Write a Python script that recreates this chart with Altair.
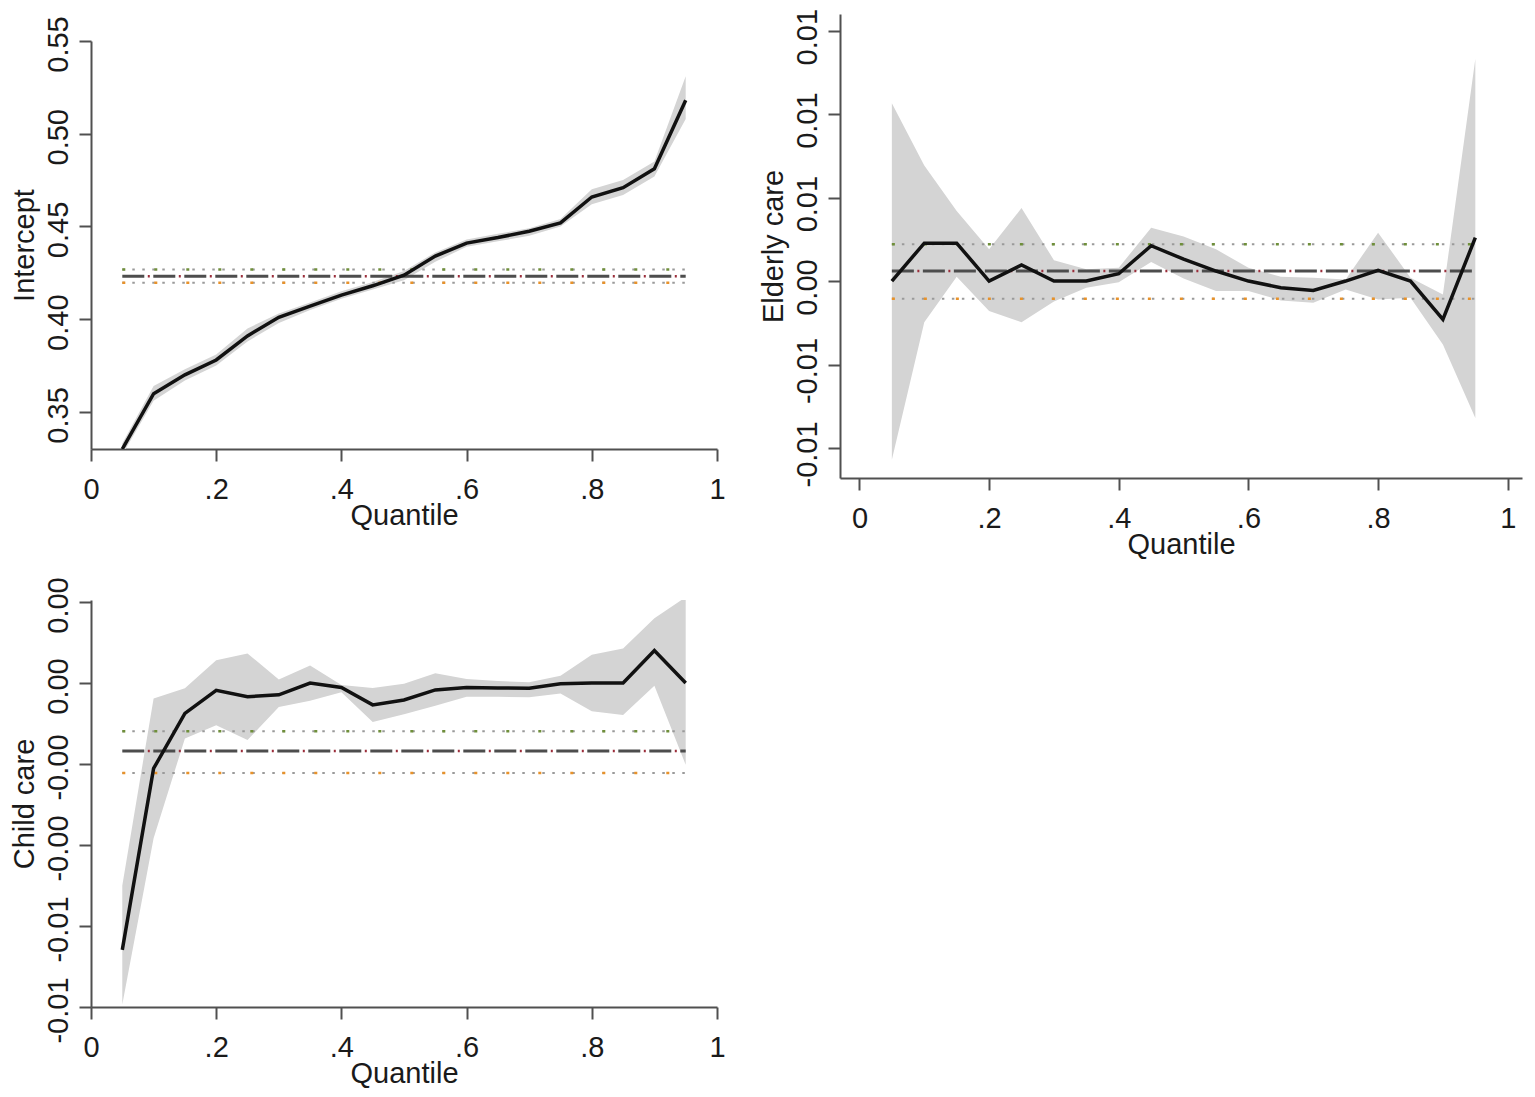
import altair as alt
import pandas as pd

# ---------------- data ----------------
quantiles = [0.05, 0.10, 0.15, 0.20, 0.25, 0.30, 0.35, 0.40, 0.45, 0.50,
             0.55, 0.60, 0.65, 0.70, 0.75, 0.80, 0.85, 0.90, 0.95]

intercept_coef = [0.330, 0.3598, 0.370, 0.378, 0.391, 0.401, 0.407, 0.413, 0.418, 0.4237,
                  0.434, 0.441, 0.444, 0.4474, 0.4519, 0.4659, 0.4709, 0.4811, 0.518]
intercept_lo = [0.327, 0.356, 0.367, 0.375, 0.388, 0.398, 0.405, 0.411, 0.416, 0.421,
                0.431, 0.439, 0.442, 0.445, 0.450, 0.462, 0.467, 0.477, 0.508]
intercept_hi = [0.333, 0.364, 0.373, 0.381, 0.395, 0.403, 0.409, 0.415, 0.420, 0.426,
                0.436, 0.443, 0.446, 0.449, 0.454, 0.470, 0.475, 0.485, 0.531]
intercept_ols = [0.4232, 0.4197, 0.4268]   # estimate, lower, upper

elderly_coef = [0.0, 0.00227, 0.00227, 0.0, 0.00096, 0.0, 0.0, 0.00044, 0.00212, 0.00131,
                0.0006, 0.0, -0.0004, -0.00056, 0.0, 0.00064, 0.0, -0.0023, 0.0026]
elderly_lo = [-0.0107, -0.00247, 0.00026, -0.0018, -0.00247, -0.00122, -0.0004, -0.00007, 0.00114, 0.00015,
              -0.0006, -0.0006, -0.00116, -0.0013, -0.0005, -0.0011, -0.001, -0.0038, -0.0082]
elderly_hi = [0.01065, 0.00693, 0.0042, 0.0019, 0.00437, 0.00125, 0.0007, 0.0008, 0.0032, 0.00267,
              0.0019, 0.0008, 0.00026, 0.0002, 0.0001, 0.0029, 0.0002, -0.0008, 0.0133]
elderly_ols = [0.0006, -0.00106, 0.0022]

child_coef = [-0.00659, -0.00211, -0.00075, -0.00018, -0.00034, -0.00029, 0.0, -0.00011, -0.00054, -0.00042,
              -0.00017, -0.00011, -0.00012, -0.00013, -0.00002, 0.0, 0.0, 0.0008, 0.0]
child_lo = [-0.00794, -0.00383, -0.00137, -0.00104, -0.00141, -0.00059, -0.00044, -0.00023, -0.00096, -0.00077,
            -0.00056, -0.00034, -0.00034, -0.00035, -0.00026, -0.0007, -0.00079, -0.00007, -0.00202]
child_hi = [-0.0050, -0.00038, -0.00013, 0.00056, 0.00073, 0.00009, 0.00043, -0.00005, -0.00012, -0.00002,
            0.00024, 0.0001, 0.00005, 0.00002, 0.00018, 0.0007, 0.00085, 0.0016, 0.00212]
child_ols = [-0.00168, -0.00222, -0.00119]

ols_q = [0.05, 0.95]

x_ticks = [0, 0.2, 0.4, 0.6, 0.8, 1]
intercept_ticks = [0.35, 0.40, 0.45, 0.50, 0.55]
elderly_ticks = [0.015, 0.010, 0.005, 0.0, -0.005, -0.010]
child_ticks = [0.002, 0.0, -0.002, -0.004, -0.006, -0.008]

FONT = "Liberation Sans"
AXIS_COL = "#505050"
TEXT_COL = "#1a1a1a"
FS = 29


def x_axis():
    return alt.Axis(
        values=x_ticks,
        labelExpr="datum.value == 0 ? '0' : (datum.value == 1 ? '1' : '.' + format(datum.value * 10, '.0f'))",
        title="Quantile", grid=False, tickSize=12, tickWidth=2, tickColor=AXIS_COL,
        domainColor=AXIS_COL, domainWidth=2, labelFont=FONT, labelFontSize=FS,
        labelColor=TEXT_COL, labelPadding=14, labelFlush=False, labelOverlap=False,
        titleFont=FONT, titleFontSize=FS, titleFontWeight="normal", titleColor=TEXT_COL,
        titleY=52, titleBaseline="top",
    )


def y_axis(title, ticks, label_offset):
    return alt.Axis(
        values=ticks,
        labelExpr="(datum.value < 0 ? '-' : '') + format(abs(datum.value), '.2f')",
        title=title, grid=False, tickSize=12, tickWidth=2, tickColor=AXIS_COL,
        domainColor=AXIS_COL, domainWidth=2, labelFont=FONT, labelFontSize=FS,
        labelColor=TEXT_COL, labelAngle=270, labelAlign="center", labelBaseline="alphabetic",
        labelPadding=12, labelOffset=label_offset, labelFlush=False, labelOverlap=False,
        titleFont=FONT, titleFontSize=FS, titleFontWeight="normal", titleColor=TEXT_COL,
        titleAngle=270, titleAlign="center", titleBaseline="alphabetic", titleX=-58,
    )


def panel(coef, lo, hi, ols, ytitle, yticks, ydomain, xdomain, w, h, label_offset):
    df = pd.DataFrame({"q": quantiles, "coef": coef, "lo": lo, "hi": hi})
    dfo = pd.DataFrame({"q": ols_q, "b": [ols[0]] * 2, "l": [ols[1]] * 2, "u": [ols[2]] * 2})
    xs = alt.Scale(domain=xdomain, nice=False, zero=False)
    ys = alt.Scale(domain=ydomain, nice=False, zero=False)
    xa = x_axis()
    ya = y_axis(ytitle, yticks, label_offset)

    def X():
        return alt.X("q:Q", scale=xs, axis=xa)

    def Y(f):
        return alt.Y(f + ":Q", scale=ys, axis=ya)

    band = alt.Chart(df).mark_area(color="#d4d4d4", clip=True).encode(
        x=X(), y=Y("lo"), y2="hi:Q")
    up_dots = alt.Chart(dfo).mark_line(color="#9a9a9a", strokeWidth=2, strokeDash=[2.5, 7.5]).encode(
        x=X(), y=Y("u"))
    up_col = alt.Chart(dfo).mark_line(color="#6f8f3a", strokeWidth=2.5, strokeDash=[3, 29]).encode(
        x=X(), y=Y("u"))
    lo_dots = alt.Chart(dfo).mark_line(color="#9a9a9a", strokeWidth=2, strokeDash=[2.5, 7.5]).encode(
        x=X(), y=Y("l"))
    lo_col = alt.Chart(dfo).mark_line(color="#e8922a", strokeWidth=2.5, strokeDash=[3, 29]).encode(
        x=X(), y=Y("l"))
    dashed = alt.Chart(dfo).mark_line(color="#4d4d4d", strokeWidth=3, strokeDash=[22, 9]).encode(
        x=X(), y=Y("b"))
    red = alt.Chart(dfo).mark_line(color="#9b2d3a", strokeWidth=2.5, strokeDash=[2, 29],
                                   strokeDashOffset=5.5).encode(x=X(), y=Y("b"))
    line = alt.Chart(df).mark_line(color="#111111", strokeWidth=3.5, clip=True).encode(
        x=X(), y=Y("coef"))
    return alt.layer(band, up_dots, up_col, lo_dots, lo_col, dashed, red, line).properties(
        width=w, height=h)


p1 = panel(intercept_coef, intercept_lo, intercept_hi, intercept_ols, "Intercept",
           intercept_ticks, [0.33, 0.55], [0, 1], 626, 408, 3)
p2 = panel(elderly_coef, elderly_lo, elderly_hi, elderly_ols, "Elderly care",
           elderly_ticks, [-0.0118, 0.016], [-0.03, 1.022], 682, 464, 6)
p3 = panel(child_coef, child_lo, child_hi, child_ols, "Child care",
           child_ticks, [-0.008, 0.00205], [0, 1], 626, 407, 3)

# invisible spacer: its origin lines up with the right panel's plot top
spacer_df = pd.DataFrame({"s": [0]})
spacer = alt.Chart(spacer_df).mark_point(opacity=0, size=1).encode(
    x=alt.value(0), y=alt.value(0)).properties(width=10, height=1)

col1 = alt.vconcat(spacer, alt.vconcat(p1, p3, spacing=46), spacing=0)

chart = alt.hconcat(col1, p2, spacing=33).properties(
    padding={"left": 2, "top": 0, "right": 5, "bottom": 5},
    background="white",
).configure_view(stroke=None)

chart.save("out.html", embed_options={"renderer": "svg", "actions": False})
